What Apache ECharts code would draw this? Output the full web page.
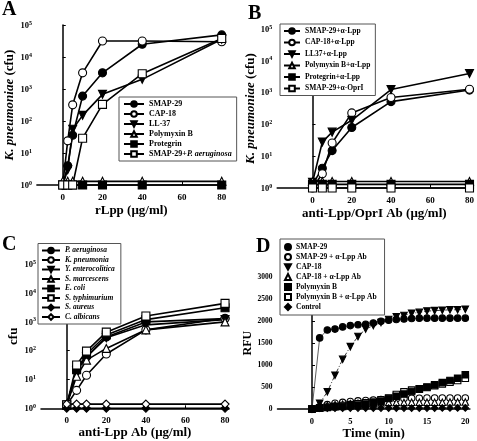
<!DOCTYPE html>
<html><head><meta charset="utf-8">
<script src="https://cdn.jsdelivr.net/npm/echarts@6/dist/echarts.min.js"></script>
<style>html,body{margin:0;padding:0;background:#fff}#c{width:477px;height:441px}</style>
</head><body><div id="c"></div>
<script>
const FONT = 'Liberation Serif';
// ---------- Panel A ----------
const xA = [0, 2.5, 5, 10, 20, 40, 80];
const smap29A = [1, 4, 36, 600, 3200, 25000, 49000];
const cap18A = [1, 24, 320, 3200, 31600, 31600, 30000];
const ll37A = [1, 3, 55, 150, 680, 2000, 36000];
const polyA = [1.3, 1.3, 1.3, 1.3, 1.3, 1.3, 1.3];
const protA = [1, 1, 1, 1, 1, 1, 1];
const smapPaA = [1, 1, 1, 29, 330, 3000, 38000];
// ---------- Panel B ----------
const xB = [0, 5, 10, 20, 40, 80];
const smapB = [1.3, 4.2, 15, 80, 520, 1200];
const cap18B = [1, 2.8, 26, 230, 700, 1270];
const ll37B = [1.5, 28, 57, 135, 1250, 4000];
const polyB = [1.6, 1.6, 1.6, 1.6, 1.6, 1.6];
const protB = [1.3, 1.3, 1.3, 1.3, 1.3, 1.3];
const smapOprB = [1, 1, 1, 1, 1, 1];
// ---------- Panel C ----------
const xC = [0, 5, 10, 20, 40, 80];
const paeC = [1.3, 20, 60, 300, 1000, 1300];
const kpnC = [1.3, 4.2, 14, 77, 530, 1330];
const yentC = [1.3, 20, 62, 280, 790, 1200];
const smarC = [1.3, 13, 47, 120, 530, 1000];
const ecoliC = [1.3, 22, 75, 350, 1200, 3100];
const stypC = [1.3, 32, 97, 440, 1600, 4400];
const saurC = [1, 1, 1, 1, 1, 1];
const calbC = [1.4, 1.4, 1.4, 1.4, 1.4, 1.4];
// ---------- Panel D ----------
const tD = [0,1,2,3,4,5,6,7,8,9,10,11,12,13,14,15,16,17,18,19,20];
const smapD = [0,1620,1800,1820,1870,1900,1920,1930,1960,2000,2020,2040,2050,2060,2070,2070,2070,2070,2070,2070,2070];
const cap18D = [0,130,390,770,1130,1420,1650,1820,1900,1970,2040,2100,2130,2180,2200,2230,2240,2250,2260,2260,2270];
const smapAbD = [0,50,100,130,150,170,185,195,205,215,225,235,240,245,245,250,250,250,250,250,250];
const capAbD = [0,50,80,100,110,120,130,135,140,145,150,150,150,155,155,155,155,155,160,160,160];
const polyD = [0,20,35,50,60,75,90,110,140,180,240,290,340,400,450,500,550,600,650,700,780];
const polyAbD = [0,20,40,60,80,100,120,140,170,210,250,330,390,430,460,490,530,570,610,650,700];
const ctrlD = [10,15,15,15,15,20,20,20,20,20,20,20,20,20,20,20,20,25,25,25,25];

const xTicksABC = [0, 20, 40, 60, 80];
const xTicksD = [0, 5, 10, 15, 20];

const DOWN = 'path://M0,0L12,0L6,11Z';
const SYM = {
  fc: ['circle', true], oc: ['circle', false], dt: [DOWN, true], ot: ['triangle', false],
  fs: ['rect', true], os: ['rect', false], fd: ['diamond', true], od: ['diamond', false]
};

const labels = {};
function ser(id, label, g, xs, ys, s, opt) {
  labels[id] = label;
  const [symbol, filled] = SYM[s];
  opt = opt || {};
  return Object.assign({
    name: id, type: 'line', xAxisIndex: g, yAxisIndex: g,
    data: xs.map((x, i) => [x, ys[i]]),
    symbol: symbol, symbolSize: opt.size || 8, clip: false,
    itemStyle: { color: filled ? '#000' : '#fff', borderColor: '#000', borderWidth: 1.1 },
    lineStyle: { color: '#000', width: 1.6 },
    emphasis: { disabled: true }, animation: false
  }, opt.extra || {});
}

const series = [
  ser('A1', '{n|SMAP-29}', 0, xA, smap29A, 'fc'),
  ser('A2', '{n|CAP-18}', 0, xA, cap18A, 'oc'),
  ser('A3', '{n|LL-37}', 0, xA, ll37A, 'dt'),
  ser('A4', '{n|Polymyxin B}', 0, xA, polyA, 'ot'),
  ser('A5', '{n|Protegrin}', 0, xA, protA, 'fs'),
  ser('A6', '{n|SMAP-29+}{i|P. aeruginosa}', 0, xA, smapPaA, 'os'),
  ser('B1', '{n|SMAP-29+α-Lpp}', 1, xB, smapB, 'fc'),
  ser('B2', '{n|CAP-18+α-Lpp}', 1, xB, cap18B, 'oc'),
  ser('B3', '{n|LL37+α-Lpp}', 1, xB, ll37B, 'dt'),
  ser('B4', '{n|Polymyxin B+α-Lpp}', 1, xB, polyB, 'ot'),
  ser('B5', '{n|Protegrin+α-Lpp}', 1, xB, protB, 'fs'),
  ser('B6', '{n|SMAP-29+α-OprI}', 1, xB, smapOprB, 'os'),
  ser('C1', '{i|P. aeruginosa}', 2, xC, paeC, 'fc'),
  ser('C2', '{i|K. pneumonia}', 2, xC, kpnC, 'oc'),
  ser('C3', '{i|Y. enterocolitica}', 2, xC, yentC, 'dt'),
  ser('C4', '{i|S. marcescens}', 2, xC, smarC, 'ot'),
  ser('C5', '{i|E. coli}', 2, xC, ecoliC, 'fs'),
  ser('C6', '{i|S. typhimurium}', 2, xC, stypC, 'os'),
  ser('C7', '{i|S. aureus}', 2, xC, saurC, 'fd'),
  ser('C8', '{i|C. albicans}', 2, xC, calbC, 'od'),
  ser('D2', '{n|SMAP-29 + α-Lpp Ab}', 3, tD, smapAbD, 'oc', {size: 6.5, extra: {lineStyle: {width: 0}}}),
  ser('D4', '{n|CAP-18 + α-Lpp Ab}', 3, tD, capAbD, 'ot', {size: 6.5, extra: {lineStyle: {width: 0}}}),
  ser('D6', '{n|Polymyxin B + α-Lpp Ab}', 3, tD, polyAbD, 'os', {size: 6.5, extra: {lineStyle: {width: 0}}}),
  ser('D5', '{n|Polymyxin B}', 3, tD, polyD, 'fs', {size: 6.5, extra: {lineStyle: {width: 0}}}),
  ser('D3', '{n|CAP-18}', 3, tD, cap18D, 'dt', {size: 6.5, extra: {lineStyle: {color: '#000', width: 0.8, type: [4, 2, 1, 2]}}}),
  ser('D1', '{n|SMAP-29}', 3, tD, smapD, 'fc', {size: 6.5, extra: {lineStyle: {color: '#333', width: 0.8}}}),
  ser('D7', '{n|Control}', 3, tD, ctrlD, 'fd', {size: 6.5, extra: {lineStyle: {width: 0}}})
];

const rich = (fs) => ({
  n: { fontFamily: FONT, fontWeight: 'bold', fontSize: fs, color: '#000', lineHeight: fs + 1 },
  i: { fontFamily: FONT, fontWeight: 'bold', fontStyle: 'italic', fontSize: fs, color: '#000', lineHeight: fs + 1 }
});

function legend(ids, left, top, fs, gap, iw, ih, icons, pad) {
  return {
    orient: 'vertical', left: left, top: top, padding: pad,
    data: ids.map((id, k) => icons ? { name: id, icon: icons[k] } : id),
    formatter: (n) => labels[n],
    itemWidth: iw, itemHeight: ih, itemGap: gap, selectedMode: false,
    borderColor: '#555', borderWidth: 1, backgroundColor: '#fff',
    textStyle: { rich: rich(fs), fontSize: fs }
  };
}

const logLabel = (v) => '{b|10}{s|' + Math.round(Math.log10(v)) + '}';
const yRich = {
  b: { fontFamily: FONT, fontWeight: 'bold', fontSize: 8.5, color: '#000', lineHeight: 10, verticalAlign: 'bottom' },
  s: { fontFamily: FONT, fontWeight: 'bold', fontSize: 6, color: '#000', lineHeight: 10, verticalAlign: 'top', padding: [0, 0, 4, 0] }
};
const axLine = { show: true, lineStyle: { color: '#000', width: 1.5 } };
const tickStyle = { show: true, inside: true, length: 3, lineStyle: { color: '#000', width: 1 } };
const nameStyle = (fs) => ({ fontFamily: FONT, fontWeight: 'bold', fontSize: fs, color: '#000',
  rich: { i: { fontFamily: FONT, fontWeight: 'bold', fontStyle: 'italic', fontSize: fs, color: '#000' },
          b: { fontFamily: FONT, fontWeight: 'bold', fontSize: fs, color: '#000' } } });

function xAx(g, min, max, ticks, name, gap, fs) {
  return {
    type: 'value', gridIndex: g, min: min, max: max,
    axisLine: axLine, splitLine: { show: false },
    axisTick: Object.assign({ customValues: ticks }, tickStyle),
    axisLabel: { customValues: ticks, margin: 8, fontFamily: FONT, fontWeight: 'bold', fontSize: fs, color: '#000' },
    name: name, nameLocation: 'middle', nameGap: gap, nameTextStyle: nameStyle(13)
  };
}
function yLog(g, name, gap) {
  return {
    type: 'log', logBase: 10, gridIndex: g, min: 1, max: 100000,
    axisLine: axLine, splitLine: { show: false }, minorTick: { show: false },
    axisTick: tickStyle,
    axisLabel: { formatter: logLabel, rich: yRich, margin: 5 },
    name: name, nameLocation: 'middle', nameGap: gap, nameTextStyle: nameStyle(13)
  };
}

const option = {
  animation: false,
  grid: [
    { left: 36.9, top: 25, width: 188.8, height: 160 },
    { left: 277.2, top: 29, width: 196.8, height: 159 },
    { left: 41, top: 264.3, width: 188, height: 144 },
    { left: 277.5, top: 277.3, width: 192.4, height: 131.7 }
  ],
  xAxis: [
    xAx(0, -13, 82, xTicksABC, 'rLpp (μg/ml)', 19, 9),
    xAx(1, -18, 81, xTicksABC, 'anti-Lpp/OprI Ab (μg/ml)', 19, 9),
    xAx(2, -13, 82, xTicksABC, 'anti-Lpp Ab (μg/ml)', 9, 9),
    xAx(3, -4.5, 20.6, xTicksD, 'Time (min)', 13, 8.5)
  ],
  yAxis: [
    yLog(0, '{i|K. pneumoniae} {b|(cfu)}', 21),
    yLog(1, '{i|K. pneumoniae} {b|(cfu)}', 19),
    yLog(2, 'cfu', 21),
    {
      type: 'value', gridIndex: 3, min: 0, max: 3000, interval: 500,
      axisLine: axLine, splitLine: { show: false }, axisTick: tickStyle,
      axisLabel: { margin: 5, formatter: (v) => String(v), fontFamily: FONT, fontWeight: 'bold', fontSize: 7.5, color: '#000' },
      name: 'RFU', nameLocation: 'middle', nameGap: 21, nameTextStyle: nameStyle(12)
    }
  ],
  legend: [
    legend(['A1','A2','A3','A4','A5','A6'], 119, 97, 8, 2, 20, 7, null, [3, 5, 3, 4]),
    legend(['B1','B2','B3','B4','B5','B6'], 280, 24, 7.5, 3.5, 16, 7, null, [3, 5, 3, 3]),
    legend(['C1','C2','C3','C4','C5','C6','C7','C8'], 38, 243.5, 7.5, 1.5, 18, 7, null, [3, 6, 3, 3]),
    legend(['D1','D2','D3','D4','D5','D6','D7'], 280, 239, 7.5, 2, 6, 6,
      ['circle', 'circle', DOWN, 'triangle', 'rect', 'rect', 'diamond'], [4, 8, 4, 4])
  ],
  graphic: [
    { type: 'text', left: 2, top: 0, style: { text: 'A', font: 'bold 20px "Liberation Serif"', fill: '#000' } },
    { type: 'text', left: 248, top: 4, style: { text: 'B', font: 'bold 20px "Liberation Serif"', fill: '#000' } },
    { type: 'text', left: 2, top: 235, style: { text: 'C', font: 'bold 20px "Liberation Serif"', fill: '#000' } },
    { type: 'text', left: 256, top: 237, style: { text: 'D', font: 'bold 20px "Liberation Serif"', fill: '#000' } }
  ],
  series: series
};
const chart = echarts.init(document.getElementById('c'), null, { renderer: 'canvas' });
chart.setOption(option);
</script></body></html>
